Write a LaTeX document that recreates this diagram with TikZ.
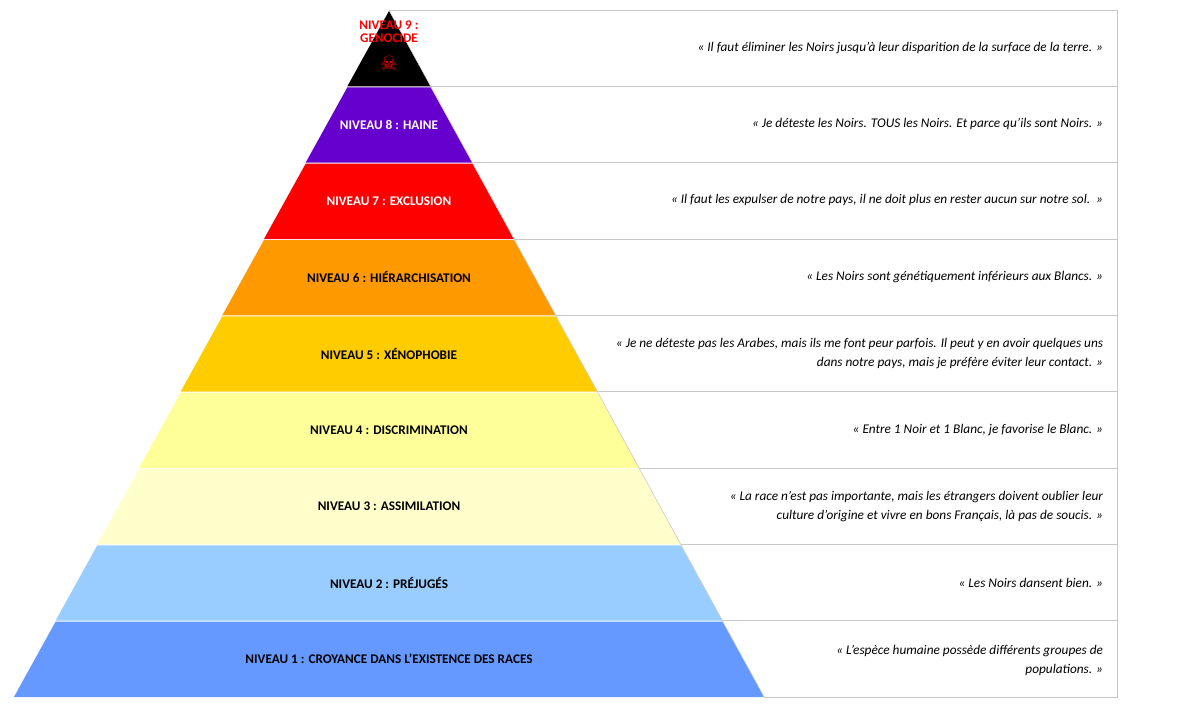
\documentclass[tikz,border=0pt]{standalone}
\usepackage{fontspec}
\setmainfont{Carlito}
\newfontfamily\symfont{DejaVu Sans}
\definecolor{lvnine}{HTML}{000000}
\definecolor{lveight}{HTML}{6600CC}
\definecolor{lvseven}{HTML}{FF0000}
\definecolor{lvsix}{HTML}{FF9900}
\definecolor{lvfive}{HTML}{FFCC00}
\definecolor{lvfour}{HTML}{FFFF99}
\definecolor{lvthree}{HTML}{FFFFCC}
\definecolor{lvtwo}{HTML}{99CCFF}
\definecolor{lvone}{HTML}{6699FF}
\definecolor{rowline}{HTML}{C8C8C8}

\begin{document}
\begin{tikzpicture}[x=0.025cm,y=-0.025cm,
    level/.style={font=\bfseries\fontsize{9.4}{11}\selectfont,align=center},
    quote/.style={font=\itshape\fontsize{9.45}{13.5}\selectfont,align=right,anchor=east}]
    \useasboundingbox (0,0) rectangle (1200,719);
    % layers, bottom (1) to top (9)
    \foreach \i/\col in {1/lvone,2/lvtwo,3/lvthree,4/lvfour,5/lvfive,6/lvsix,7/lvseven,8/lveight,9/lvnine} {
        \pgfmathsetmacro\yb{697-(\i-1)*76.33}
        \pgfmathsetmacro\yt{\yb-76.33}
        \pgfmathsetmacro\wb{(\yb-10)*0.546}
        \pgfmathsetmacro\wt{(\yt-10)*0.546}
        \fill[\col] (389-\wb,\yb) -- (389+\wb,\yb) -- (389+\wt,\yt+1) -- (389-\wt,\yt+1) -- cycle;
        \draw[rowline,line width=0.6pt] (389+\wb,\yb) -- (1117,\yb) -- (1117,\yt) -- (389+\wt,\yt);
        \draw[rowline,line width=0.4pt] (389+\wb,\yb) -- (389+\wt,\yt);
        \coordinate (m\i) at (389,\yb-38);
    }
    \node[level] (l9) at (389,32) {\textcolor{red}{NIVEAU 9 :}\\[-2pt]\textcolor{red}{GENOCIDE}};
    \node[text=red,font=\symfont\fontsize{14}{14}\selectfont] (skull) at (389,63) {☠};
    \node[level] (l8) at (m8) {\textcolor{white}{NIVEAU 8 : HAINE}};
    \node[level] (l7) at (m7) {\textcolor{white}{NIVEAU 7 : EXCLUSION}};
    \node[level] (l6) at (m6) {NIVEAU 6 : HIÉRARCHISATION};
    \node[level] (l5) at (m5) {NIVEAU 5 : XÉNOPHOBIE};
    \node[level] (l4) at (m4) {NIVEAU 4 : DISCRIMINATION};
    \node[level] (l3) at (m3) {NIVEAU 3 : ASSIMILATION};
    \node[level] (l2) at (m2) {NIVEAU 2 : PRÉJUGÉS};
    \node[level] (l1) at (m1) {NIVEAU 1 : CROYANCE DANS L’EXISTENCE DES RACES};
    % quotes
    \node[quote] (q9) at (1108,48) {« Il faut éliminer les Noirs jusqu’à leur disparition de la surface de la terre. »};
    \node[quote] (q8) at (1108,124) {« Je déteste les Noirs. TOUS les Noirs. Et parce qu’ils sont Noirs. »};
    \node[quote] (q7) at (1108,200) {« Il faut les expulser de notre pays, il ne doit plus en rester aucun sur notre sol.\ \ »};
    \node[quote] (q6) at (1108,277) {« Les Noirs sont génétiquement inférieurs aux Blancs. »};
    \node[quote] (q5) at (1108,354) {« Je ne déteste pas les Arabes, mais ils me font peur parfois. Il peut y en avoir quelques uns\\dans notre pays, mais je préfère éviter leur contact. »};
    \node[quote] (q4) at (1108,430) {« Entre 1 Noir et 1 Blanc, je favorise le Blanc. »};
    \node[quote] (q3) at (1108,507) {« La race n’est pas importante, mais les étrangers doivent oublier leur\\culture d’origine et vivre en bons Français, là pas de soucis. »};
    \node[quote] (q2) at (1108,583) {« Les Noirs dansent bien. »};
    \node[quote] (q1) at (1108,660) {« L’espèce humaine possède différents groupes de\\populations. »};
\end{tikzpicture}
\end{document}
